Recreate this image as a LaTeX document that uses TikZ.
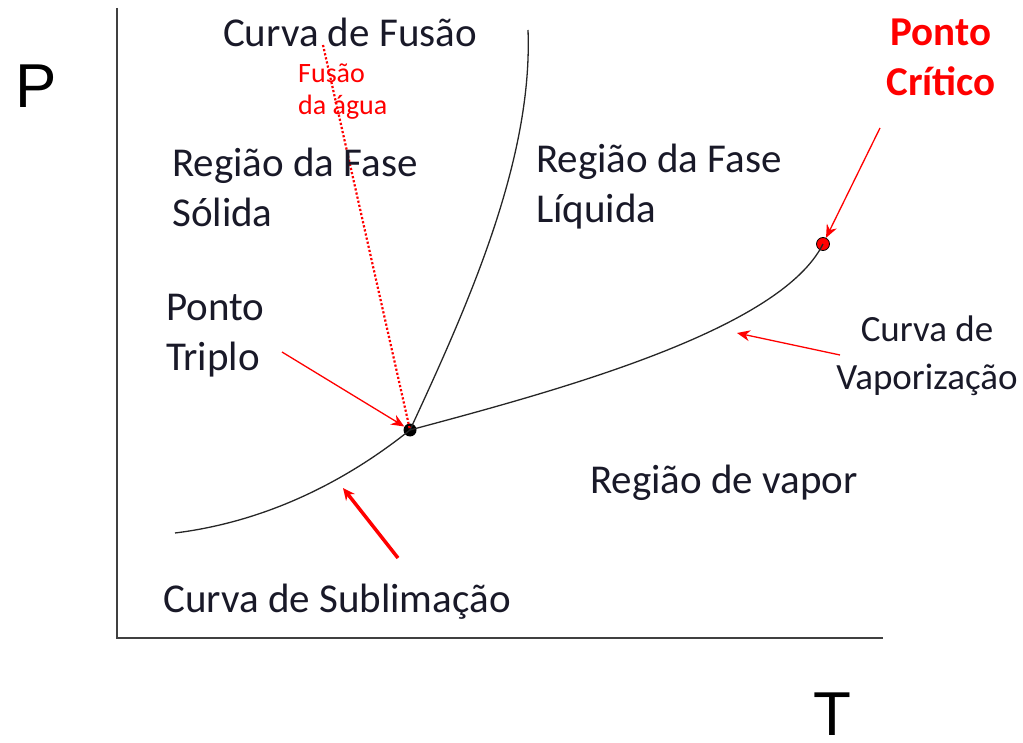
\documentclass[tikz,border=0pt]{standalone}
\usepackage{fontspec}
\setmainfont{Carlito}
\newfontfamily\axisfont{Liberation Sans}
\usepackage{tikz}
\usetikzlibrary{arrows.meta,positioning}
\definecolor{textdark}{RGB}{25,25,40}
\tikzset{
  regiontext/.style={align=left, anchor=west, inner sep=0pt, text=textdark, font=\fontsize{41}{50}\selectfont},
  redlabel/.style={align=left, anchor=west, inner sep=0pt, text=red, font=\fontsize{28}{32}\selectfont},
  axislabel/.style={inner sep=0pt, anchor=base, font=\axisfont\fontsize{62}{62}\selectfont},
  phasecurve/.style={line width=1.3pt, black!85},
  redarrow/.style={-{Stealth[length=13pt,width=11pt]}, red, line width=1.3pt},
  thickarrow/.style={-{Stealth[length=12pt,width=11pt]}, red, line width=3.5pt},
  dotpoint/.style={circle, inner sep=0pt, minimum size=13pt}
}
\begin{document}
\begin{tikzpicture}[x=1pt,y=-1pt]
\useasboundingbox (0,0) rectangle (1023,743);
% axes
\coordinate (top) at (117,8);
\coordinate (origin) at (117,638);
\coordinate (right) at (883,638);
\draw[line width=1.5pt, black!75] (top) -- (origin) -- (right);
\node[axislabel] (plabel) at (36,108) {P};
\node[axislabel] (tlabel) at (832,735) {T};
% special points
\node[dotpoint, fill=black] (triple) at (410,430) {};
\node[dotpoint, fill=red, draw=black, line width=0.8pt] (critical) at (823,244) {};
\coordinate (subl) at (175,533);
\coordinate (fustop) at (528,30);
% phase curves
\draw[phasecurve] (subl) .. controls (280,520) and (360,470) .. (triple.center);
\draw[phasecurve] (triple.center) .. controls (560,390) and (780,330) .. (critical.center);
\draw[phasecurve] (triple.center) .. controls (468,305) and (533,160) .. (fustop);
% water melting line
\coordinate (watertop) at (323,45);
\draw[red, dotted, line width=2.2pt] (watertop) -- (triple.center);
% texts
\node[regiontext, anchor=center] (fusao) at (350,32) {Curva de Fusão};
\node[redlabel] (agua) at (298,92) {Fusão\\da água};
\node[regiontext] (solida) at (172,187) {Região da Fase\\Sólida};
\node[regiontext] (liquida) at (536,187) {Região da Fase\\Líquida};
\node[regiontext] (tripletext) at (166,336) {Ponto\\Triplo};
\node[regiontext, align=center, anchor=center, text=red, font=\bfseries\fontsize{41}{50}\selectfont] (criticaltext) at (941,57) {Ponto\\Crítico};
\node[regiontext, align=center, anchor=center, font=\fontsize{37}{48}\selectfont] (vaptext) at (927,356) {Curva de\\Vaporização};
\node[regiontext] (vapor) at (590,483) {Região de vapor};
\node[regiontext] (subltext) at (163,602) {Curva de Sublimação};
% arrows
\coordinate (a1) at (282,352);
\coordinate (a2) at (880,128);
\coordinate (a3) at (840,355);
\coordinate (a4) at (398,558);
\draw[redarrow] (a1) -- (triple);
\draw[redarrow] (a2) -- (critical);
\draw[redarrow] (a3) -- (737,333);
\draw[thickarrow] (a4) -- (343,488);
\end{tikzpicture}
\end{document}
